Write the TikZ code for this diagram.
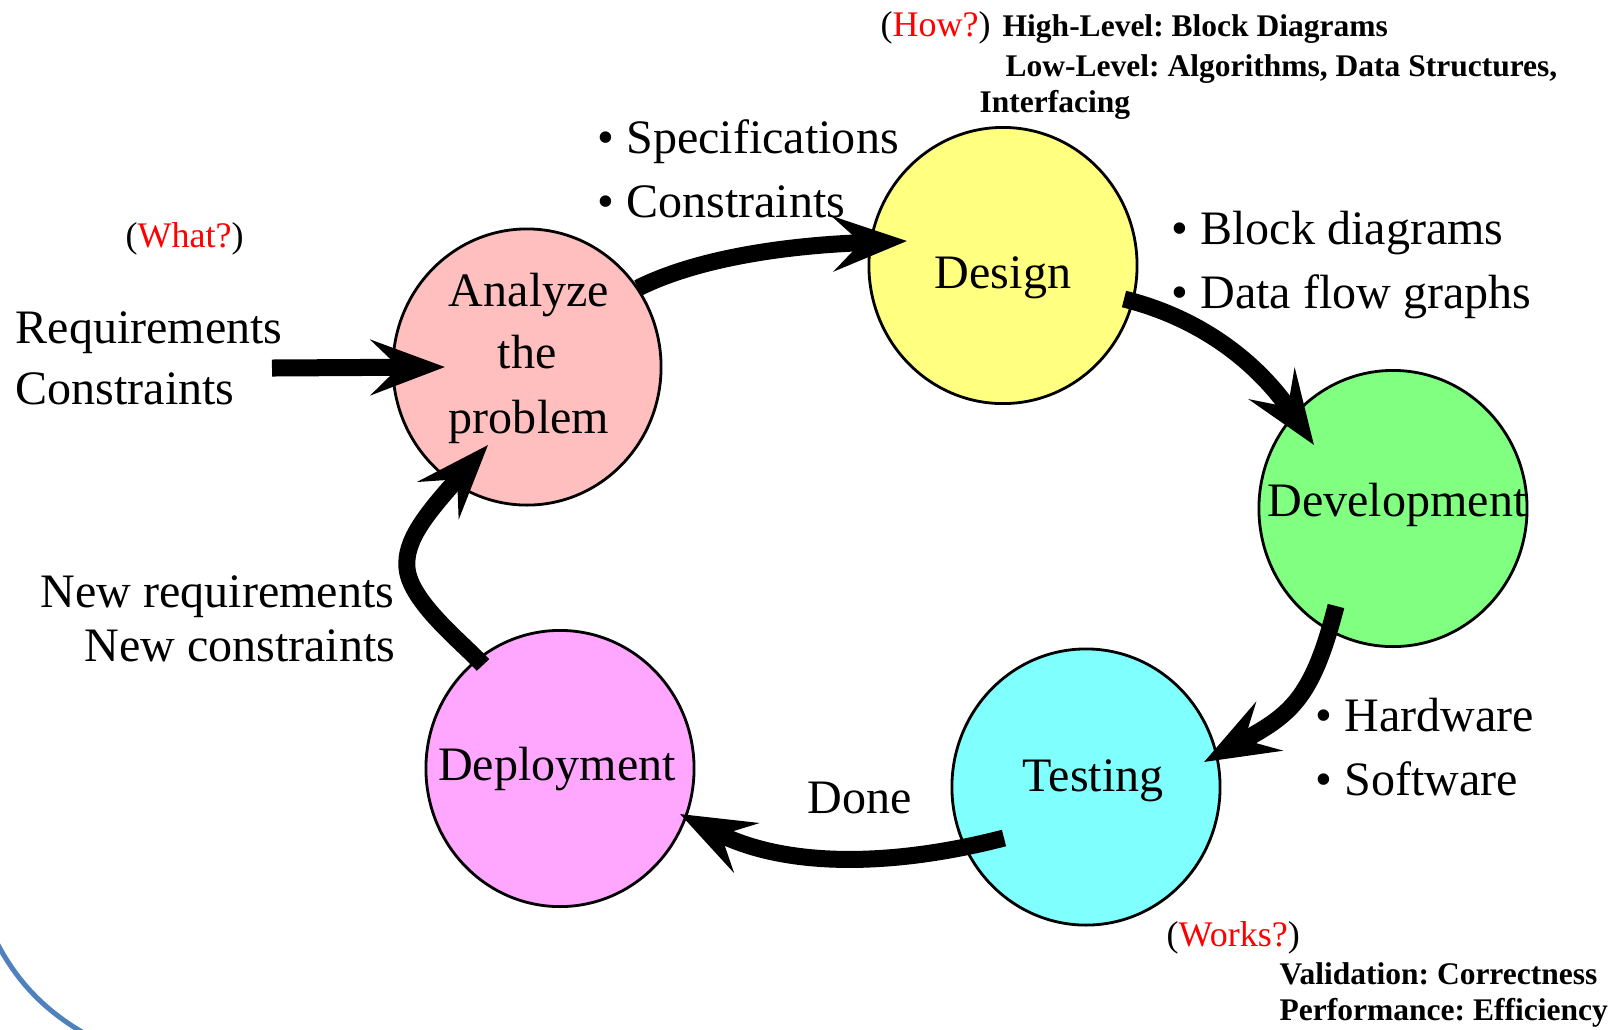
\documentclass[tikz,border=0pt]{standalone}
\usepackage{fontspec}
\setmainfont{Liberation Serif}
\usetikzlibrary{arrows.meta,shapes.geometric,calc}
\frenchspacing

\definecolor{stagepink}{HTML}{FFBFBF}
\definecolor{stageyellow}{HTML}{FFFF80}
\definecolor{stagegreen}{HTML}{80FF80}
\definecolor{stagecyan}{HTML}{80FFFF}
\definecolor{stagemagenta}{HTML}{FFA6FF}
\definecolor{slideblue}{HTML}{4F81BD}

\begin{document}
\begin{tikzpicture}[x=0.01cm,y=-0.01cm,
  stage/.style={ellipse,draw=black,line width=0.8pt,minimum width=2.68cm,
                minimum height=2.76cm,inner sep=0pt},
  big/.style={inner sep=0pt,font=\fontsize{13.66pt}{17pt}\selectfont},
  note/.style={inner sep=0pt,font=\fontsize{10.24pt}{12pt}\selectfont},
  detail/.style={inner sep=0pt,font=\fontsize{8.96pt}{11pt}\selectfont\bfseries},
  flow/.style={line width=0.17cm,
               -{Stealth[length=0.74cm,width=0.55cm,inset=0.28cm]}},
]
\useasboundingbox (0,0) rectangle (1620,1029);

% decorative arc in the lower left corner
\draw[slideblue,line width=0.05cm] (-3,943) .. controls (18,983) and (45,1010) .. (82,1032);

% the five stages of the cycle
\node[stage,fill=stagepink]    (an) at (527,367)   {};
\node[stage,fill=stageyellow]  (de) at (1003,265.5) {};
\node[stage,fill=stagegreen]   (dv) at (1393,508.5) {};
\node[stage,fill=stagecyan]    (te) at (1086,787)  {};
\node[stage,fill=stagemagenta] (dp) at (560,768.5) {};

% stage names
\node[big,anchor=base] (anA) at (529,306) {Analyze};
\node[big,anchor=base] (anB) at (527,368) {the};
\node[big,anchor=base] (anC) at (529,433) {problem};
\node[big,anchor=base] (deL) at (1003,288) {Design};
\node[big,anchor=base] (dvL) at (1397,516) {Development};
\node[big,anchor=base] (teL) at (1093,791) {Testing};
\node[big,anchor=base] (dpL) at (557,780) {Deployment};

% inputs on the left
\node[big,anchor=base west] (reqA) at (15,343) {Requirements};
\node[big,anchor=base west] (reqB) at (15,404) {Constraints};
\node[note,anchor=base west] (what) at (125,247) {(\textcolor{red}{What?})};

% specification bullets
\node[big,anchor=base west] (spA) at (597,153) {• Specifications};
\node[big,anchor=base west] (spB) at (597,217) {• Constraints};

% design notes
\node[note,anchor=base west] (how) at (880,36) {(\textcolor{red}{How?})};
\node[detail,anchor=base west] (hlA) at (1002,36) {High-Level: Block Diagrams};
\node[detail,anchor=base west] (hlB) at (1005,76) {Low-Level: Algorithms, Data Structures,};
\node[detail,anchor=base west] (hlC) at (979,112) {Interfacing};

% design outputs
\node[big,anchor=base west] (bdA) at (1171,244) {• Block diagrams};
\node[big,anchor=base west] (bdB) at (1171,308) {• Data flow graphs};

% development outputs
\node[big,anchor=base west] (hwA) at (1315,731) {• Hardware};
\node[big,anchor=base west] (hwB) at (1315,795) {• Software};

% testing notes
\node[note,anchor=base west] (works) at (1166,946) {(\textcolor{red}{Works?})};
\node[detail,anchor=base west] (vaA) at (1279,984) {Validation: Correctness};
\node[detail,anchor=base west] (vaB) at (1279,1020) {Performance: Efficiency};

% loop labels
\node[big,anchor=base west] (done) at (807,813) {Done};
\node[big,anchor=base east] (nwA) at (395,607) {New requirements};
\node[big,anchor=base east] (nwB) at (396,661) {New constraints};

% connectors
\coordinate (reqEnd) at (272,368);
\coordinate (loopBend) at (407,568);
\draw[flow] (reqEnd) -- ($(an.center)+(-82,0)$);
\draw[flow] ($(an.center)+(111,-79)$) .. controls (690,262) and (770,246)
  .. ($(de.center)+(-96,-24.5)$);
\draw[flow] ($(de.center)+(121,33.5)$) .. controls (1204,319) and (1259,365)
  .. ($(dv.center)+(-79,-63.5)$);
\draw[flow] ($(dv.center)+(-57,97.5)$) .. controls (1312,700) and (1290,715)
  .. ($(te.center)+(118,-25)$);
\draw[flow] ($(te.center)+(-82,51)$) .. controls (900,865) and (790,870)
  .. ($(dp.center)+(120,45.5)$);
\draw[flow] ($(dp.center)+(-77,-103.5)$) .. controls (463,643) and (410,602)
  .. (loopBend) .. controls (404.5,541) and (425,515)
  .. ($(an.center)+(-39,78)$);
\end{tikzpicture}
\end{document}
